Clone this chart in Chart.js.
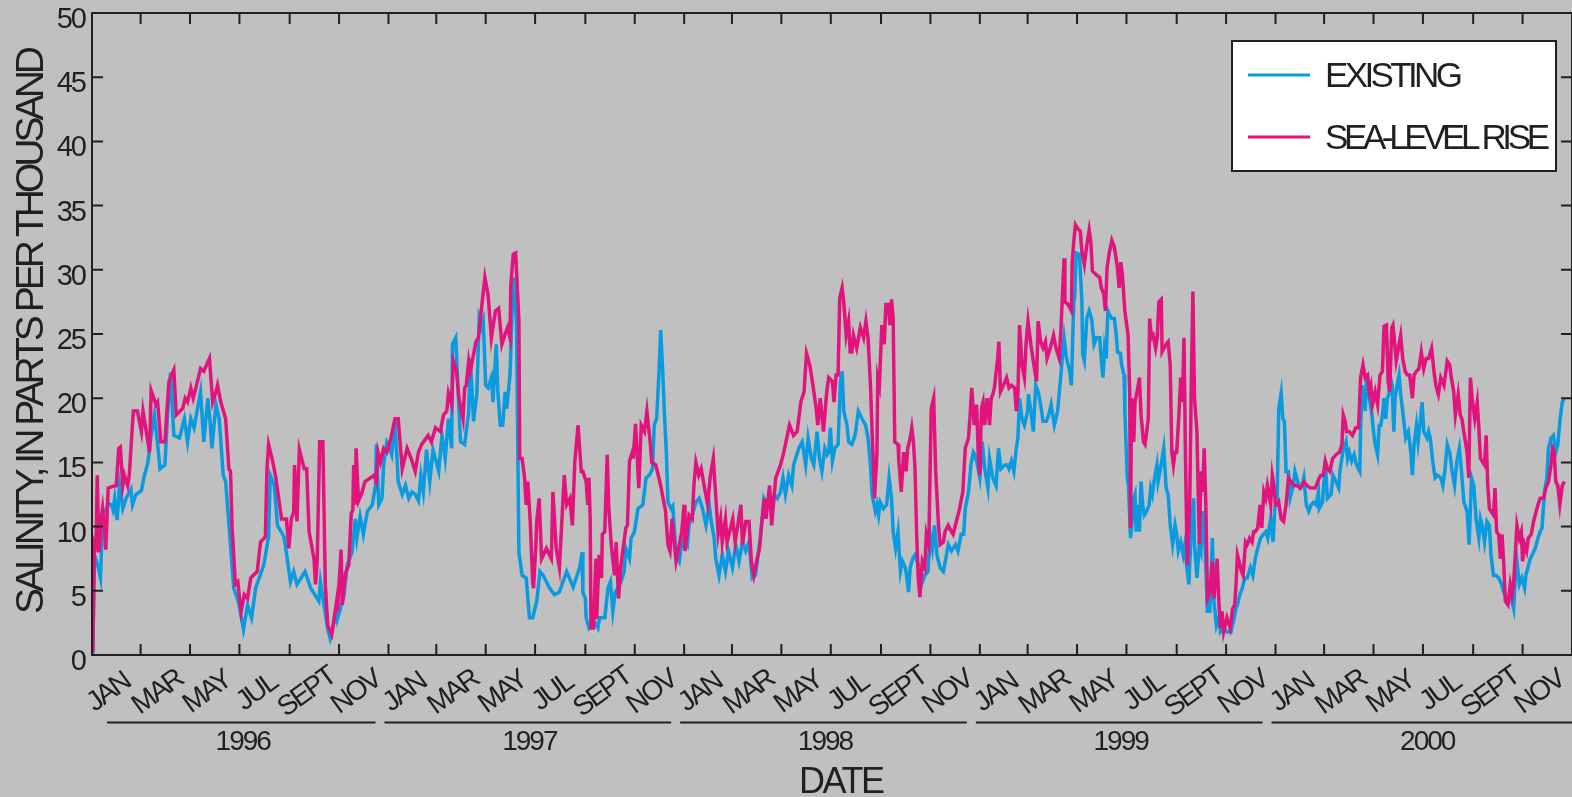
<!DOCTYPE html>
<html>
<head>
<meta charset="utf-8">
<script src="https://cdn.jsdelivr.net/npm/chart.js@4.4.1/dist/chart.umd.min.js"></script>
<style>
html,body{margin:0;padding:0;background:#c0c0c0;overflow:hidden}
canvas{display:block}
</style>
</head>
<body>
<canvas id="c" width="1572" height="797"></canvas>
<script>
// x values are days counted from 1 January 1996 (day 0)
const years = [1996, 1997, 1998, 1999, 2000];
const monthLabels = ['JAN', 'MAR', 'MAY', 'JUL', 'SEPT', 'NOV'];
const yTickValues = [0, 5, 10, 15, 20, 25, 30, 35, 40, 45, 50];
const seriesNames = ['EXISTING', 'SEA-LEVEL RISE'];
const xAxisTitle = 'DATE';
const yAxisTitle = 'SALINITY, IN PARTS PER THOUSAND';

// [day, salinity in ppt]
const existing = [
[0,0],[1,0.1],[3,7.8],[7,7],[10.5,6],[13,10.6],[20,11.8],[24,11.7],[26,11.3],[28,12.2],[31,10.5],[34,13.2],[38,11.4],[42,12.2],[48,12.9],[50,11.7],[54,12.5],[61,12.8],[64,13.8],[69,15],[73,17.1],[77,18.7],[81,16.4],[84,14.5],[90,14.8],[93,18.4],[97,22],[101,17.1],[108,16.9],[114,18.4],[118,16.6],[122,18.4],[126,17.7],[134,20.5],[138,16.6],[143,20],[146,18],[148,16.1],[153,19.5],[157,18.4],[162,14],[165,13.5],[175,5.2],[181,4.1],[187,2],[192,3.9],[197,2.9],[202,5.2],[212,7],[218,9.2],[220,14],[225,13.2],[229,10.1],[237,9.2],[241,7.5],[245,5.7],[249,6.5],[253,5.5],[263,6.5],[270,5.2],[280,4.2],[282,5.7],[291,2],[294,1.3],[302,3.4],
[303,2.8],[311,4.6],[315,7],[321,8],[325,10.6],[327,9.1],[331,10.8],[335,9.4],[340,11.2],[346,11.7],[350,13.2],[351,16.4],[354,11.7],[358,12.2],[360,14.8],[364,16.6],[366,16.4],[370,15.6],[374,18.2],[378,13.5],[383,12.5],[387,13.2],[391,12.2],[395,12.7],[399,12.5],[403,12],[406,14],[409,12.7],[413,16],[417,13.5],[421,16],[428,14.3],[432,17.1],[436,15.3],[440,18.4],[444,16.1],[445,24.2],[449,24.7],[452,20.5],[455,16.6],[460,16.4],[465,18.9],[467,23.1],[471,18.2],[475,20.3],[478,26.2],[481,25.5],[483,26],[486,21],[489,20.8],[493,21.6],[495,19.7],[499,24.2],[501,20.5],[504,17.9],[507,17.9],[510,20.5],[512,19.2],[516,21.8],[520,29.4],[524,26],[527,8],[531,6.2],[536,6],[540,2.9],[544,2.9],[549,4.2],[553,6.5],[557,6.2],[565,5.2],[571,4.7],[577,4.9],[586,6.5],[594,5.3],[602,6.8],[605,8],
[606,4.9],[609,4.4],[610,2.9],[613.5,2.1],[616,2.3],[620,2.6],[624.5,2.1],[626.6,2.9],[633,2.9],[637,5.2],[640,5.7],[643,3.4],[646,4.9],[649,5.2],[653,5.7],[657,6.5],[659,8.3],[663.5,7.5],[665.5,9.1],[669.6,9.6],[674,11.4],[680,11.7],[684,13.8],[688,14],[692,14.5],[694,17.9],[697,18.4],[700,22.1],[702,25.3],[704.5,22.1],[706.5,19],[709,15.8],[711,11.9],[715,11.4],[717,11.6],[721,7.8],[725,7.3],[727,8.3],[731,9.1],[735,8.6],[737,10.1],[741,10.9],[745.5,11.9],[749.6,12.2],[753.7,11.4],[758,10.1],[762,11.7],[764,10.6],[768,9.1],[770,7.5],[774,6.2],[778,7.8],[782,6.5],[785.7,8.1],[790.6,6.8],[794.7,8.6],[798.8,7.3],[803,8.8],[807,8.1],[811,8.8],[815,6],[819,6.2],[823,8.1],[825,9.1],[829.5,12.2],[833.7,11.7],[837.8,11.9],[842,12.5],[846,12.2],[850,12.7],[853,13.8],[856,12.5],[860,14],[864,13.2],[866,14.8],[872.6,16.1],[876.7,16.6],[881,14.8],[884,16.9],[888,15.3],[891,14.8],[895,17.4],[898,15.3],[901,14.3],[904.6,16.1],[907.5,15.6],
[909.5,15.8],[911.5,17.7],[914,15.1],[917,16.1],[921,16.4],[924,21.3],[926,22.1],[928,19],[932,17.9],[934,16.6],[938,16.4],[942,17.1],[946,19],[950.5,18.4],[955,17.9],[958,16.9],[961,14.8],[963,12.5],[967,11.2],[969,11.7],[971,10.9],[973,11.9],[977,11.4],[981,11.7],[984,13.8],[987,12.2],[989,9.6],[992,8.3],[995,9.6],[998,6.5],[1000.5,7.3],[1004,6.8],[1006,6],[1008,4.9],[1010,6.8],[1013,7.5],[1016,7.8],[1020,7],[1024,5.5],[1028,6.2],[1032,6.5],[1034.5,9.4],[1037.4,8.3],[1040,10.1],[1043,7.8],[1047,6.8],[1051,6.5],[1054,7.5],[1057,8.6],[1061,8.1],[1066,8.6],[1069,8.1],[1073,9.4],[1076,9.4],[1078,11.4],[1082,12.7],[1085,14.8],[1088,15.8],[1090,15.6],[1093,14.8],[1096,13.8],[1099,16.6],[1102,14.5],[1106,13],[1108,15.3],[1112,13.8],[1116,13.2],[1119,16.1],[1122,14.5],[1127,14.8],[1130,14.8],[1132,14.5],[1135,15.1],[1138,14.3],[1141,16.1],[1143,16.9],[1145,20],[1148,18.4],[1151,17.9],[1155,19],[1156,20.3],[1159,19],[1162,17.4],[1165,21],[1168,20.5],[1171,19.5],[1174,18.2],[1178,18.2],[1181,18.7],[1184,19.5],[1188,17.9],[1192,19],[1196,21.8],[1200,24.7],[1203,23.1],[1207,22.1],[1209,21],[1212,27.5],
[1213,27.8],[1215,31.3],[1219,31.2],[1222,27.5],[1223,23.4],[1225,22.9],[1228,26.2],[1231,26.8],[1234,26.2],[1237,24.2],[1240,24.7],[1244,24.7],[1246,22.9],[1248,21.6],[1250,23.9],[1252,23.1],[1254,26.8],[1256,26.5],[1259,26.2],[1262,26.2],[1264,25.2],[1266,23.6],[1269.5,23.5],[1271,22.6],[1274,21.8],[1275,19],[1278,13.8],[1279.5,13.2],[1282,9.1],[1284,10.4],[1286,12.2],[1287.5,12.5],[1289,9.6],[1291,11.7],[1293,9.6],[1295,13.5],[1297,11.7],[1299,10.9],[1302,11.2],[1305,11.7],[1307,13],[1309,12.5],[1311,13.5],[1314.6,14.8],[1316,13.5],[1319,14.5],[1323,16.1],[1326,13],[1328.5,12.5],[1331,10.1],[1334,8.6],[1337,10.1],[1339,9.4],[1341,8.1],[1344,8.8],[1347,7.8],[1349,8.6],[1351.5,6.8],[1354,5.5],[1357,9.6],[1360,12.2],[1361,8.6],[1364,6],[1367,8.6],[1369,8.1],[1371,11.2],[1373,10.1],[1375,6.8],[1377,3.4],[1380,3.4],[1383,9.1],[1385,4.2],[1388,2.3],[1391,2.9],[1393,1.8],[1397,2.1],[1401,1.8],[1406,1.8],[1410,2.9],[1412,3.6],[1414,3.9],[1417,4.7],[1420,5.2],[1423,6],[1426,6],[1430,6.8],[1433,6.2],[1436,7.5],[1439,8.3],[1442.5,9.1],[1446,9.4],[1449,9.6],[1451.5,9.1],[1455,10.6],[1458,8.8],[1460,11.4],[1463,12.2],[1465,19.2],[1468,20.4],[1470,18.4],[1472,18.2],[1474,14.3],[1477,14.3],[1479,12.2],[1483,13.2],[1485,14.3],[1487,13.8],[1491,13],[1494,13.2],[1496,13.8],[1499,11.7],[1502,11.2],[1505,11.7],[1508,11.9],[1511,11.7],[1514,12.7],
[1515,11.4],[1519,11.9],[1522.5,15.1],[1525,12.2],[1529.5,12.5],[1532,14],[1535.6,13.5],[1539,13],[1540.5,14.3],[1544,15.8],[1548,16.6],[1550,15.3],[1552,15.8],[1555,15.1],[1558,15.6],[1561,14.8],[1565,14.3],[1566,17.4],[1568,21],[1571.7,19],[1573,21],[1576,20.5],[1577,20],[1580,18.7],[1581.5,17.7],[1584,16.4],[1587,15.6],[1589,17.9],[1591,17.9],[1593,18.7],[1595,20],[1597,18.4],[1599,20],[1601,20.3],[1603,21.6],[1605,21],[1607,17.4],[1608.6,20],[1611,21],[1613.5,21.8],[1615.5,20.3],[1618,19],[1621.7,16.9],[1625,17.4],[1628,15.8],[1630,14],[1632,16.4],[1635,17.9],[1637,16.6],[1640,18.4],[1642,19.7],[1644,17.4],[1648,16.9],[1650,17.4],[1652,16.9],[1655,15.1],[1658,13.8],[1660.6,14],[1665,13.8],[1667.6,13.2],[1670,14.3],[1673,16.4],[1676,15.8],[1679,14.3],[1682,13.2],[1685,15.1],[1688,16.1],[1690.6,14.3],[1693.5,11.9],[1697.5,11.2],[1700,8.6],[1703,13.8],[1705.8,13.2],[1708.6,10.6],[1712,9.1],[1714,10.6],[1716,10.1],[1719,8.8],[1722,10.4],[1725,10.1],[1727,7.8],[1730,6.2],[1733,6.2],[1736.5,6],[1740,5.5],[1742.6,4.9],[1746.7,4.4],[1748.8,4.4],[1752,4.4],[1755,3.6],[1757,6],[1759,7.3],[1762,5.5],[1765,6],[1768.5,5.2],[1770,6.2],[1772.6,6.8],[1775.5,7.5],[1778,7.8],[1781.6,8.3],[1785,9.1],[1787.7,9.6],[1790,9.9],[1793,12.7],[1796,13.8],[1798,16.1],[1801,16.9],[1804,17.1],[1807,15.8],[1809.5,16.4],[1812,18.2],[1815,19.7],[1817.7,20]
];

const seaLevelRise = [
[0,1.0],[1,0.2],[3,8.8],[5,8.5],[6.5,14],[8,9.5],[9,8],[11,10.5],[13,11.4],[15,10],[17,8.2],[20,13],[24,13.1],[30,13.2],[33,16.1],[35,16.2],[38,13.2],[40,14],[44,13.2],[46,14],[51,19],[56,19],[61,17.4],[63,19],[67,17.4],[71,15.8],[73,20.6],[79,19.5],[81,19.7],[85,16.6],[90,16.6],[93,19.5],[95,21.3],[101,22.2],[104,18.7],[112,19.2],[115,20],[118,19.7],[122,20.8],[125,20],[129,21],[134,22.3],[138,22.1],[145,23.1],[149,19.7],[153,20.5],[155,21],[159,19.7],[165,18.4],[169,14.5],[171,14.3],[173,9.9],[177,5.5],[180,5.7],[184,3.4],[188,4.7],[192,4.4],[196,6],[204,6.5],[208,8.8],[214,9.2],[216,14.5],[218,16.4],[223,15.1],[227,13.8],[234,10.6],[240,10.6],[243,8.3],[246,10.6],[249,11.1],[250,14.8],[253,10.4],[256,16],[262,14.5],[265,14.5],[268,9.6],[274,7.5],[276,5.5],[278,7.3],[281,16.6],[285,16.6],[288,5.5],[291,2.3],[296,1.6],[302,4.2],
[303,3.4],[307.5,8.2],[309,3.9],[313,6.4],[317,7],[320,11],[322,11.3],[323,14.8],[325,11.7],[326,16.1],[329,12],[333,12.6],[337,13.5],[344,13.8],[348,14],[351,13.5],[353,15.8],[356,15],[360,16.1],[364,15.8],[369,16.9],[374,18.4],[378,18.4],[383,14.5],[389,16.1],[394,15.3],[399,14.3],[403,15.8],[407,16.4],[415,17.1],[419,16.6],[424,17.7],[430,17.4],[434,18.7],[438,19],[440,20.4],[444,19.5],[446,22.9],[450,22.1],[453,20],[458,18.4],[460,20.8],[462,21],[465,22.9],[467,22.1],[474,24.4],[477,24.7],[480,26.5],[485,29.4],[489,28],[493,24.7],[498,26.8],[502,27],[506,24.2],[510,25],[513,25.5],[516,24.7],[517,28.8],[520,31.2],[523,31.3],[527,26],[528,15.3],[531,15.3],[534,13.8],[536,11.7],[538,13.5],[541,10.4],[544,5.7],[545,5.2],[548,8.6],[549,10.4],[552,12.2],[555,7.5],[561,8.3],[567,7.5],[569,12.7],[573,8.3],[577,6.8],[583,14],[586,11.7],[590,12.2],[593,10.1],[596,15],[600,17.9],[604,14.3],
[606,14.3],[610,13.5],[612,11.7],[613.5,13.8],[615,10.6],[616,2.1],[619,2.1],[622,7.5],[623,2.8],[626,7.8],[629,6],[630,9.4],[633,9.6],[636,15.6],[638,11.4],[641,8.6],[645,6.2],[647,8.8],[650,4.4],[653,7],[659,9.9],[661,10.1],[663.5,15.1],[667,15.8],[668,15.3],[671,18],[675,13],[678,17.9],[682,17.4],[685,19],[689,16.6],[691,15],[696,14.8],[702,13.2],[708,11.2],[711,8.6],[713.5,8.1],[716,10.6],[721,7.3],[725,8.6],[728,9.6],[731,11.7],[732,8.1],[737,10.9],[741,10.6],[743,13.2],[745.5,15],[749,14],[752,14.5],[760,11.7],[763,13.8],[767,15.3],[773,9.4],[776,10.6],[778,8.8],[782,10.6],[784,8.8],[791,10.6],[794,8.8],[801,11.7],[803,8.6],[807,10.4],[811,10.4],[814,7.3],[817,6.2],[821,7.5],[824,8.3],[827,10.4],[830,12.2],[832,10.6],[836.5,13.2],[839,10.1],[844,13.8],[850,14.8],[854,15.8],[861,17.9],[866,17.1],[870.5,17.4],[875,19.7],[879,20.5],[882,23.5],[886,22.6],[890,21],[894,19.2],[896,17.9],[899,20],[903,17.4],[907,20.5],
[909.5,21.6],[914,21.3],[916,19.7],[918.5,21.8],[921,21.8],[923,27.8],[926,28.6],[928,27.5],[931,24.9],[934,26],[936,23.6],[938,23.6],[940,24.9],[944,23.9],[948.5,25.5],[952.5,24.7],[955.4,26],[958,24.7],[961,21],[963,17.4],[966,12.2],[969,15.8],[970,21.6],[972,21],[975,25.7],[978,24.2],[980,27.3],[983,27.3],[985,25.7],[987,27.7],[989,26.2],[991,16.6],[995,16.4],[996,15.1],[999,12.7],[1002,15.8],[1005,14.3],[1007,16.1],[1010,16.9],[1012,17.7],[1014,16.6],[1016,14.5],[1018,9.4],[1020,6],[1022,4.5],[1025,7.3],[1028,6.8],[1030,9.4],[1033,8.6],[1036,19.2],[1039,20],[1041.5,14.3],[1045,10.1],[1047,8.6],[1051,8.8],[1053,9.6],[1057,10.1],[1061,9.6],[1063,9.4],[1067,10.4],[1071,11.4],[1075,12.7],[1078,16.1],[1082,16.9],[1084,18.7],[1086,20.8],[1089,17.9],[1092,19.5],[1094,15.8],[1096,14],[1098,19.2],[1100,19.7],[1102,17.9],[1105,20],[1108,17.9],[1110,20],[1112,20.3],[1114,20.8],[1118,23.1],[1119.5,24.4],[1121.5,20.5],[1125,21],[1129,21.6],[1132,20.8],[1135,21],[1139,20.8],[1141,19],[1143,20.3],[1145,25.7],[1148,22.6],[1151,21.6],[1153,24.2],[1155.5,26],[1159,24.2],[1162,22.9],[1166,21.3],[1168,26],[1171,24.4],[1174,23.9],[1177,24.4],[1179,23.1],[1183,23.9],[1187,24.9],[1190,23.9],[1194,23.1],[1196,25.2],[1200,30.9],[1201,27.5],[1205,27.3],[1209,26.8],[1210,30.6],[1212,32.2],
[1214,33.5],[1217,33.2],[1220,33],[1222,31.4],[1225,30.4],[1228,31.9],[1231,33.1],[1233,32.2],[1235,29.9],[1240,29.6],[1244,29.4],[1246,28.6],[1249,28.1],[1251,26.8],[1253,30.1],[1256,31.4],[1259,32.3],[1262,31.8],[1265.4,30.4],[1268,28.6],[1270,30.6],[1272,29.6],[1275,26.8],[1279,24.9],[1281,20.5],[1282,9.9],[1283.4,20],[1286,16.6],[1287.5,19.7],[1291,20.8],[1293,21.6],[1295,18.7],[1298,16.6],[1300,16.4],[1302,17.4],[1304,18.4],[1305.6,26.2],[1308,24.7],[1310,24.9],[1313,23.9],[1315,24.7],[1317,27.5],[1320,27.7],[1321,23.6],[1326,24.2],[1328.5,24.4],[1331,22.6],[1333,15.8],[1335,14.8],[1337,15.8],[1339,15.8],[1342,19],[1344,21.6],[1346,19.7],[1348,24.7],[1350,14.8],[1352,7],[1355,11.4],[1357,21],[1359,28.3],[1361,20],[1364,17.4],[1365,14.3],[1367,8.6],[1369,14.3],[1371,12.7],[1373,16.1],[1375,11.7],[1377,4.4],[1380,4.9],[1383,7.3],[1385,4.4],[1389,7.5],[1391,4.2],[1393,2.1],[1395,3.4],[1397,1.8],[1401,2.9],[1405,2.1],[1408,3.6],[1410.5,3.9],[1412,5.2],[1414,7.8],[1416,7.3],[1419,6.5],[1421,6.2],[1424,8.8],[1426,8.6],[1429,9.1],[1432,8.8],[1434,9.6],[1436,9.6],[1439,9.9],[1442,11.7],[1444,9.9],[1446.6,12.7],[1449,12.2],[1451,13.2],[1453,12.5],[1455,11.7],[1457,14],[1459,13.2],[1461,11.7],[1463,11.7],[1465,11.9],[1468,10.6],[1471,10.4],[1474,11.7],[1477,13.8],[1480,13.5],[1483.5,13.2],[1487,13.2],[1492,13],[1496,13.5],[1500,13.2],[1504,13],[1510,13],[1515,13.8],
[1517,14],[1520,14],[1522.5,15.1],[1525,14.5],[1528,14.3],[1531.5,15.3],[1535.6,15.6],[1540,15.8],[1543,16.4],[1544.6,18.7],[1547,18.2],[1548.7,17.4],[1552,17.4],[1556,17.1],[1560,17.7],[1563.5,17.7],[1566,21.6],[1569,22.6],[1571.7,21.6],[1574.6,21.8],[1576.6,20.5],[1578.7,21],[1580.7,19.5],[1584,20.5],[1587,19.5],[1590,21.8],[1593,22.1],[1595,25.6],[1598,25.7],[1600,21.3],[1602,20.5],[1604.5,25.5],[1606,25.7],[1608.6,23.9],[1610,22.9],[1612.7,23.9],[1615.5,24.9],[1618,23.1],[1621,22.1],[1624,21.8],[1626.6,21.8],[1630,20],[1632,21.8],[1635,22.1],[1638,22.3],[1641,23.6],[1644,22.3],[1647,23.1],[1650,23.1],[1653.7,23.9],[1656.6,22.1],[1659,21],[1662,20.3],[1665,21.6],[1669,21],[1673,22.9],[1676,22.6],[1678,21.6],[1681,20.5],[1683,18.7],[1686.5,20.3],[1689,18.7],[1691,18.4],[1694.7,16.9],[1697.5,15.8],[1699.6,13.8],[1701.6,21.6],[1703.7,20],[1707,18.4],[1710,19.7],[1712,17.7],[1714,15.3],[1716,15.1],[1719,14.8],[1721,17.1],[1723,13.2],[1725,11.4],[1727,11.2],[1730,10.9],[1732,13],[1734,9.6],[1736.5,9.4],[1738.6,7.5],[1740.6,9.4],[1742.6,7.3],[1744.7,4.2],[1748,3.9],[1750.8,5.5],[1753,4.7],[1755,5.7],[1757,7.8],[1759,10.1],[1762,9.1],[1764.4,9.6],[1766,7.3],[1768.5,8.6],[1771,8.1],[1773,9.1],[1776.7,9.4],[1779.6,10.4],[1781.6,10.9],[1785,11.7],[1787.7,12.2],[1792,12.2],[1794.7,13],[1798,13.5],[1801,14.8],[1803,16.1],[1805,15.8],[1807,13.5],[1809.5,13.2],[1812,11.7],[1815,13.2],[1817.7,13.5]
];

const BG = '#c0c0c0';
const INK = '#231f20';
const BLUE = '#0a9ae0';
const PINK = '#e0147c';
const FONT = '"Liberation Sans", Arial, Helvetica, sans-serif';

const dayOf = (y, m) => Math.round((Date.UTC(y, m, 1) - Date.UTC(1996, 0, 1)) / 86400000);
const X_END = dayOf(years[years.length - 1] + 1, 0);

function txt(ctx, s, x, y, size, spacing, align) {
  ctx.font = size + 'px ' + FONT;
  ctx.letterSpacing = spacing + 'px';
  let w = ctx.measureText(s).width;
  if (ctx.letterSpacing !== undefined) w -= spacing;
  let sx = x;
  if (align === 'center') sx = x - w / 2;
  else if (align === 'right') sx = x - w;
  ctx.textAlign = 'left';
  ctx.textBaseline = 'alphabetic';
  ctx.fillText(s, sx, y);
  ctx.letterSpacing = '0px';
}
function fitSpacing(ctx, s, size, target) {
  ctx.font = size + 'px ' + FONT;
  ctx.letterSpacing = '0px';
  const w = ctx.measureText(s).width;
  return (target - w) / Math.max(1, s.length - 1);
}

const decor = {
  id: 'decor',
  beforeDraw(chart) {
    const ctx = chart.ctx;
    ctx.save();
    ctx.fillStyle = BG;
    ctx.fillRect(0, 0, chart.width, chart.height);
    ctx.restore();
  },
  afterDatasetsDraw(chart) {
    const ctx = chart.ctx;
    const xs = chart.scales.x, ys = chart.scales.y;
    const L = xs.getPixelForValue(0), R = xs.getPixelForValue(X_END);
    const T = ys.getPixelForValue(50), B = ys.getPixelForValue(0);
    ctx.save();
    ctx.strokeStyle = INK; ctx.fillStyle = INK;
    ctx.lineWidth = 2;
    ctx.beginPath();
    ctx.moveTo(L, T); ctx.lineTo(R, T); ctx.lineTo(R, B); ctx.lineTo(L, B); ctx.closePath();
    ctx.stroke();
    const TL = 11;
    ctx.beginPath();
    const monthTicks = [];
    years.forEach(yr => { for (let m = 0; m < 12; m += 2) monthTicks.push(dayOf(yr, m)); });
    monthTicks.push(X_END);
    monthTicks.forEach(d => {
      const px = xs.getPixelForValue(d);
      ctx.moveTo(px, B); ctx.lineTo(px, B - TL);
      ctx.moveTo(px, T); ctx.lineTo(px, T + TL);
    });
    yTickValues.forEach(v => {
      const py = ys.getPixelForValue(v);
      ctx.moveTo(L, py); ctx.lineTo(L + TL, py);
      ctx.moveTo(R, py); ctx.lineTo(R - TL, py);
    });
    ctx.stroke();

    // y tick labels
    yTickValues.forEach(v => {
      const py = ys.getPixelForValue(v);
      txt(ctx, String(v), L - 5, py + 15, 29, -2, 'right');
    });

    // month labels (rotated)
    const ang = -36 * Math.PI / 180;
    const MS = 28;
    years.forEach(yr => {
      monthLabels.forEach((lab, i) => {
        const d0 = dayOf(yr, i * 2), d1 = dayOf(yr, i * 2 + 2);
        const cx = (xs.getPixelForValue(d0) + xs.getPixelForValue(d1)) / 2 - 8;
        const cy = 690;
        ctx.save();
        ctx.translate(cx, cy);
        ctx.rotate(ang);
        txt(ctx, lab, 0, MS * 0.358, MS, -2.5, 'center');
        ctx.restore();
      });
    });

    // year underlines and labels
    ctx.lineWidth = 2;
    years.forEach((yr, i) => {
      const s = xs.getPixelForValue(dayOf(yr, 0));
      const e = xs.getPixelForValue(dayOf(yr + 1, 0));
      const x0 = Math.max(s - 4, L + 15);
      const x1 = i === years.length - 1 ? e + 8 : e - 13;
      ctx.beginPath(); ctx.moveTo(x0, 722.5); ctx.lineTo(x1, 722.5); ctx.stroke();
      txt(ctx, String(yr), (x0 + x1) / 2 + 2.5, 750, 28, -2, 'center');
    });

    // axis titles
    txt(ctx, xAxisTitle, (L + R) / 2 + 10, 793, 36, fitSpacing(ctx, xAxisTitle, 36, 86), 'center');
    ctx.save();
    ctx.translate(29, (T + B) / 2 - 4);
    ctx.rotate(-Math.PI / 2);
    txt(ctx, yAxisTitle, 0, 39 * 0.358, 39, fitSpacing(ctx, yAxisTitle, 39, 568), 'center');
    ctx.restore();

    // legend
    ctx.fillStyle = '#ffffff';
    ctx.fillRect(1232, 41, 324, 130);
    ctx.strokeStyle = INK; ctx.lineWidth = 2;
    ctx.strokeRect(1232, 41, 324, 130);
    const rows = [{c: BLUE, y: 75, t: seriesNames[0], w: 138}, {c: PINK, y: 137, t: seriesNames[1], w: 225}];
    rows.forEach(r => {
      ctx.strokeStyle = r.c; ctx.lineWidth = 3;
      ctx.beginPath(); ctx.moveTo(1248, r.y); ctx.lineTo(1310, r.y); ctx.stroke();
      ctx.fillStyle = INK;
      txt(ctx, r.t, 1325, r.y + 12, 35, fitSpacing(ctx, r.t, 35, r.w), 'left');
    });
    ctx.restore();
  }
};

new Chart(document.getElementById('c'), {
  type: 'line',
  data: {
    datasets: [
      { label: seriesNames[0], data: existing.map(p => ({x: p[0], y: p[1]})), borderColor: BLUE, borderWidth: 3.5, pointRadius: 0, tension: 0, order: 2, borderJoinStyle: 'miter' },
      { label: seriesNames[1], data: seaLevelRise.map(p => ({x: p[0], y: p[1]})), borderColor: PINK, borderWidth: 3.5, pointRadius: 0, tension: 0, order: 1, borderJoinStyle: 'miter' }
    ]
  },
  options: {
    responsive: false,
    animation: false,
    devicePixelRatio: 1,
    layout: { autoPadding: false, padding: { left: 92, top: 13, right: -6, bottom: 142 } },
    scales: {
      x: { type: 'linear', min: 0, max: X_END, display: false },
      y: { type: 'linear', min: 0, max: 50, display: false }
    },
    plugins: { legend: { display: false }, tooltip: { enabled: false } },
    events: []
  },
  plugins: [decor]
});
</script>
</body>
</html>
